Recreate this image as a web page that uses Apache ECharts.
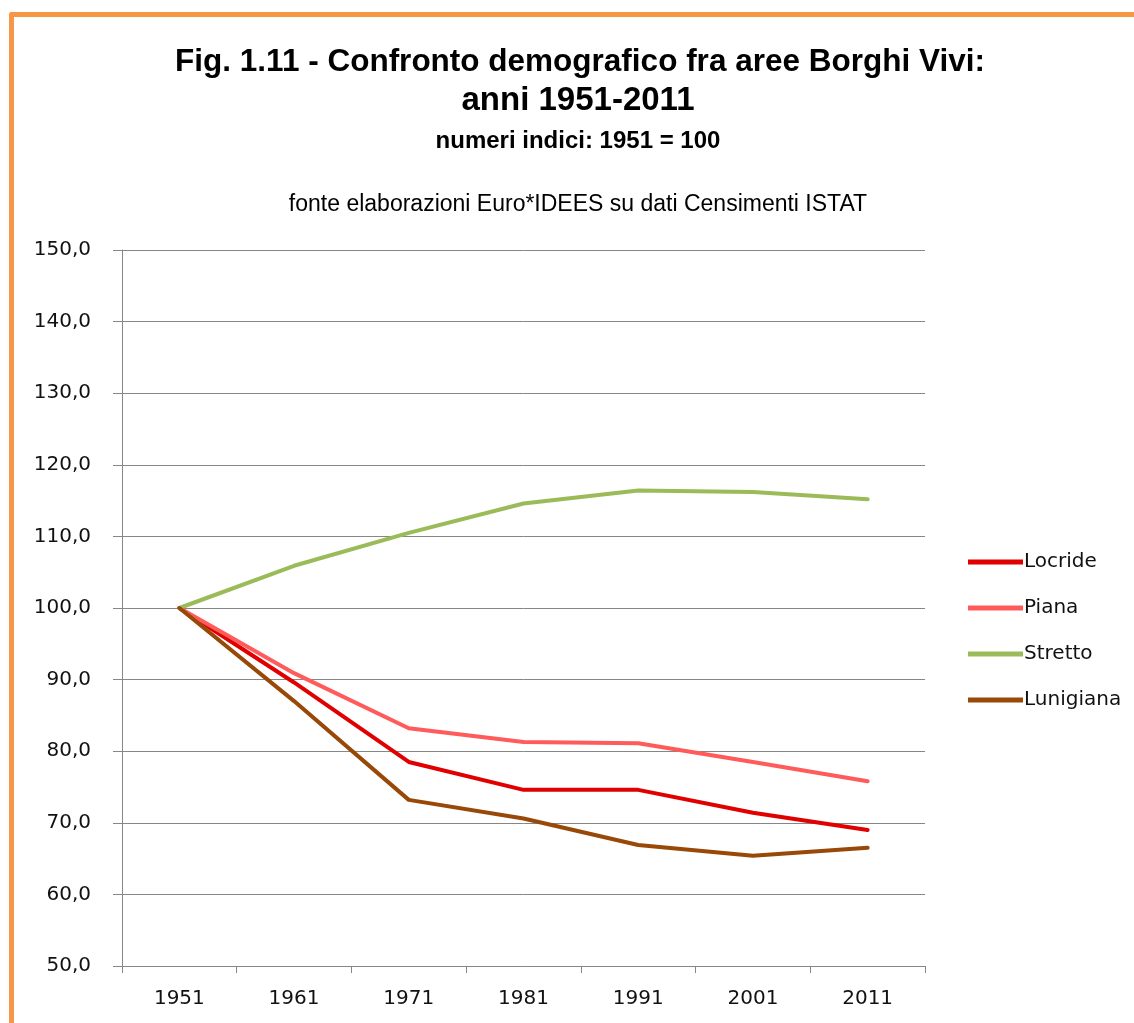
<!DOCTYPE html>
<html>
<head>
<meta charset="utf-8">
<script src="https://cdn.jsdelivr.net/npm/echarts@6/dist/echarts.min.js"></script>
<style>
  html, body { margin: 0; padding: 0; background: #fff; }
  #frame { position: absolute; left: 9px; top: 12px; width: 1200px; height: 1100px;
           border-top: 5px solid #F79646; border-left: 5px solid #F79646; border-top-left-radius: 3px; }
  #chart { position: absolute; left: 0; top: 0; width: 1134px; height: 1023px; }
</style>
</head>
<body>
<div id="frame"></div>
<div id="chart"></div>
<script>
// anni dei censimenti
const years = ['1951', '1961', '1971', '1981', '1991', '2001', '2011']

// numeri indici, 1951 = 100
const locride   = [100, 89.6, 78.5, 74.6, 74.6, 71.4, 69.0]
const piana     = [100, 90.9, 83.2, 81.3, 81.1, 78.5, 75.8]
const stretto   = [100, 105.9, 110.5, 114.6, 116.4, 116.2, 115.2]
const lunigiana = [100, 87.0, 73.2, 70.6, 66.9, 65.4, 66.5]

const yMin = 50
const yMax = 150
const yStep = 10

const titleFont = "'Liberation Sans Narrow', 'Liberation Sans', sans-serif"
const labelFont = "'DejaVu Sans', Verdana, sans-serif"

let myChart = echarts.init(document.getElementById('chart'), null, { renderer: 'canvas' })

function serie(name, data, color) {
  return {
    name: name,
    type: 'line',
    data: data,
    symbol: 'none',
    lineStyle: { color: color, width: 4, join: 'round', cap: 'round' },
    itemStyle: { color: color },
    emphasis: { disabled: true },
    z: 3
  }
}

let option = {
  animation: false,
  backgroundColor: 'transparent',
  graphic: [
    { type: 'text', x: 580, y: 62, style: { text: 'Fig. 1.11 - Confronto demografico fra aree Borghi Vivi:',
        font: 'bold 31.5px ' + titleFont, fill: '#000', textAlign: 'center', textVerticalAlign: 'middle' } },
    { type: 'text', x: 578, y: 101, style: { text: 'anni 1951-2011',
        font: 'bold 33px ' + titleFont, fill: '#000', textAlign: 'center', textVerticalAlign: 'middle' } },
    { type: 'text', x: 578, y: 141, style: { text: 'numeri indici: 1951 = 100',
        font: 'bold 24px ' + titleFont, fill: '#000', textAlign: 'center', textVerticalAlign: 'middle' } },
    { type: 'text', x: 578, y: 205, style: { text: 'fonte elaborazioni Euro*IDEES su dati Censimenti ISTAT',
        font: '23px ' + titleFont, fill: '#000', textAlign: 'center', textVerticalAlign: 'middle' } }
  ],
  legend: {
    orient: 'vertical',
    left: 963,
    top: 547,
    itemWidth: 55,
    itemHeight: 5,
    itemGap: 26,
    icon: 'rect',
    data: ['Locride', 'Piana', 'Stretto', 'Lunigiana'],
    textStyle: { fontFamily: labelFont, fontSize: 20, color: '#111', padding: [0, 0, 0, -4] }
  },
  grid: { left: 122, right: 209, top: 250, bottom: 57, containLabel: false },
  xAxis: {
    type: 'category',
    data: years,
    boundaryGap: true,
    axisLine: { lineStyle: { color: '#868686', width: 1 } },
    axisTick: { show: true, alignWithLabel: false, length: 7, lineStyle: { color: '#868686' } },
    axisLabel: { margin: 23, fontFamily: labelFont, fontSize: 20, color: '#111' },
    splitLine: { show: false }
  },
  yAxis: {
    type: 'value',
    min: yMin,
    max: yMax,
    interval: yStep,
    axisLine: { show: true, lineStyle: { color: '#868686', width: 1 } },
    axisTick: { show: true, inside: false, length: 9, lineStyle: { color: '#868686' } },
    axisLabel: {
      margin: 31,
      fontFamily: labelFont,
      fontSize: 20,
      color: '#111',
      formatter: v => v.toFixed(1).replace('.', ',')
    },
    splitLine: { show: true, lineStyle: { color: '#868686', width: 1 } }
  },
  series: [
    serie('Locride', locride, '#E00000'),
    serie('Piana', piana, '#FF5B5B'),
    serie('Stretto', stretto, '#9BBB59'),
    serie('Lunigiana', lunigiana, '#984807')
  ]
}

myChart.setOption(option)
</script>
</body>
</html>
